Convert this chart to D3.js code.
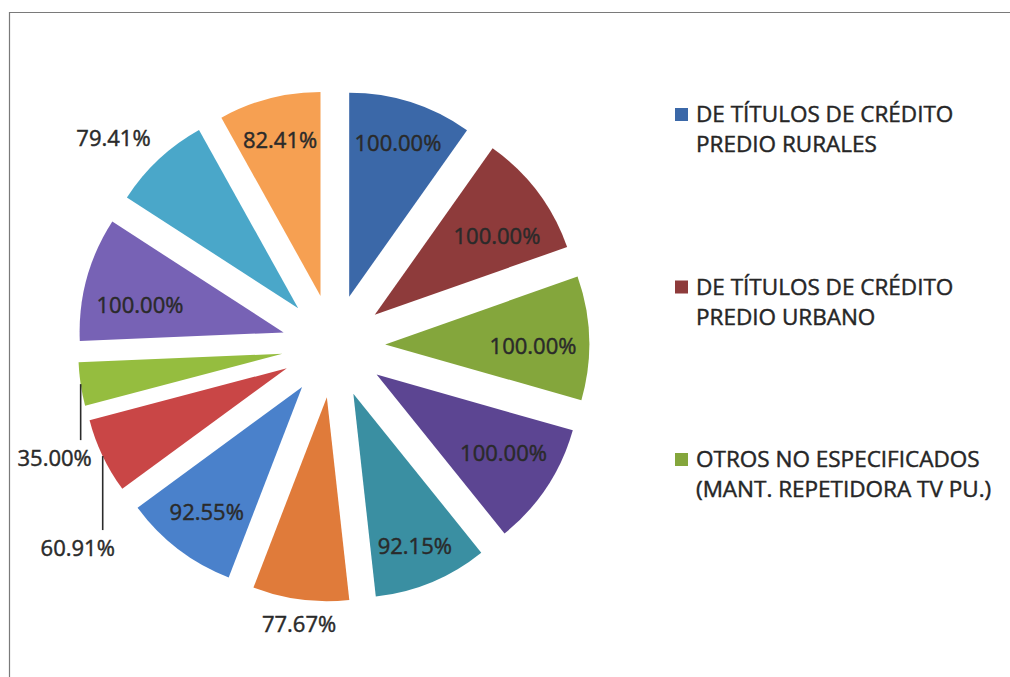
<!DOCTYPE html>
<html>
<head>
<meta charset="utf-8">
<script src="https://cdn.jsdelivr.net/npm/d3@7"></script>
<style>
  body { margin: 0; background: #fff; }
  svg { display: block; }
  .pct { font-family: 'Open Sans', sans-serif; font-size: 22px; fill: #2a2a2a; stroke: #2a2a2a; stroke-width: 0.45px; }
  .leg { font-family: 'Open Sans', sans-serif; font-size: 22.5px; fill: #262626; stroke: #262626; stroke-width: 0.45px; }
</style>
</head>
<body>
<div id="chart"></div>
<script>
// slice values (percent executed), clockwise from 12 o'clock
const values = [100, 100, 100, 100, 92.15, 77.67, 92.55, 60.91, 35.0, 100, 79.41, 82.41];
const colors = ['#3b68a8', '#8e3b3b', '#84a63c', '#5c4592', '#3a8fa2', '#e07b3a',
                '#4a81cb', '#c94646', '#95bd3f', '#7762b5', '#4aa7c9', '#f6a052'];
// legend (only the first three entries are visible)
const legendLines = [
  ['DE TÍTULOS DE CRÉDITO', 'PREDIO RURALES'],
  ['DE TÍTULOS DE CRÉDITO', 'PREDIO URBANO'],
  ['OTROS NO ESPECIFICADOS', '(MANT. REPETIDORA TV PU.)'],
];
// label placement per slice: in = inside, out = outside end, lead = with leader line
const labelMode = ['in', 'in', 'in', 'in', 'in', 'out', 'in', 'lead', 'lead', 'in', 'out', 'in'];
// small vertical nudges for "best fit" inside labels
const labelNudge = { 1: 14, 2: 6, 3: -6, 4: 5, 9: 12 };
const leaderOffset = { 7: [-25, 92], 8: [-26, 74] };

const W = 1010, H = 677;
const cx = 333.5, cy = 346, r = 204, explode = 51.7;

const svg = d3.select('#chart').append('svg')
  .attr('width', W).attr('height', H);

// scan frame
svg.append('path')
  .attr('d', `M9.5,${H} V12.5 H${W}`)
  .attr('fill', 'none').attr('stroke', '#7a7a7a').attr('stroke-width', 1.2);

const pie = d3.pie().sort(null).value((d) => d);
const arcs = pie(values);
const arc = d3.arc().innerRadius(0).outerRadius(r);

const g = svg.append('g').attr('transform', `translate(${cx},${cy})`);

const mid = (d) => (d.startAngle + d.endAngle) / 2;
const unit = (a) => [Math.sin(a), -Math.cos(a)];

const slice = g.selectAll('g.slice').data(arcs).join('g')
  .attr('class', 'slice')
  .attr('transform', (d) => {
    const [ux, uy] = unit(mid(d));
    return `translate(${ux * explode},${uy * explode})`;
  });

slice.append('path')
  .attr('d', arc)
  .attr('fill', (d, i) => colors[i]);

// labels
slice.each(function (d, i) {
  const s = d3.select(this);
  const a = mid(d);
  const [ux, uy] = unit(a);
  const txt = d.data.toFixed(2) + '%';
  if (labelMode[i] === 'in') {
    const lr = r * (0.795 - 0.07 * ux * ux);
    s.append('text').attr('class', 'pct')
      .attr('x', ux * lr).attr('y', uy * lr + (labelNudge[i] || 0))
      .attr('text-anchor', 'middle').attr('dy', '0.36em')
      .text(txt);
  } else if (labelMode[i] === 'out') {
    const lr = r + 12;
    const px = ux * lr, py = uy * lr;
    const anchor = ux > 0.3 ? 'start' : ux < -0.3 ? 'end' : 'middle';
    const dy = uy < -0.3 ? '-0.2em' : uy > 0.3 ? '0.95em' : '0.36em';
    s.append('text').attr('class', 'pct')
      .attr('x', px).attr('y', py)
      .attr('text-anchor', anchor).attr('dy', dy)
      .text(txt);
  } else {
    const px = ux * r, py = uy * r;
    const [ox, oy] = leaderOffset[i];
    s.append('line')
      .attr('x1', px).attr('y1', py)
      .attr('x2', px).attr('y2', py + oy - 18)
      .attr('stroke', '#2b2b2b').attr('stroke-width', 1.6);
    s.append('text').attr('class', 'pct')
      .attr('x', px + ox).attr('y', py + oy)
      .attr('text-anchor', 'middle').attr('dy', '0.36em')
      .text(txt);
  }
});

// legend
const leg = svg.append('g').attr('transform', 'translate(675,0)');
const legY = d3.scalePoint().domain(d3.range(legendLines.length)).range([122, 467]);
const item = leg.selectAll('g').data(legendLines).join('g')
  .attr('transform', (d, i) => `translate(0,${legY(i)})`);
item.append('rect')
  .attr('x', 0).attr('y', -14).attr('width', 13).attr('height', 13)
  .attr('fill', (d, i) => colors[i]);
item.append('text').attr('class', 'leg')
  .attr('x', 21)
  .selectAll('tspan').data((d) => d).join('tspan')
  .attr('x', 21).attr('y', (d, j) => j * 30)
  .text((d) => d);
</script>
</body>
</html>
